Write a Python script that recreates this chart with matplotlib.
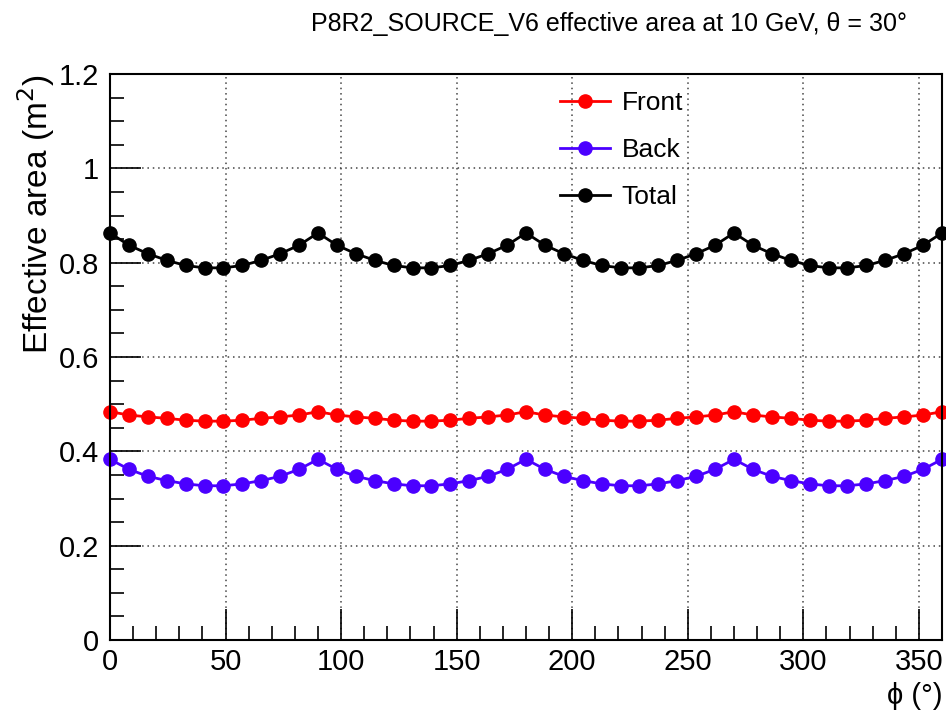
import numpy as np
import matplotlib
matplotlib.use("Agg")
import matplotlib.pyplot as plt
from matplotlib.ticker import MultipleLocator, FuncFormatter

plt.rcParams['font.family'] = ['Liberation Sans', 'DejaVu Sans']

# phi bins (deg), 45 points from 0 to 360
phi = np.linspace(0, 360, 45)

front = [0.484, 0.477, 0.473, 0.470, 0.466, 0.464, 0.464, 0.466, 0.470, 0.473, 0.477,
         0.484, 0.477, 0.473, 0.470, 0.466, 0.464, 0.464, 0.466, 0.470, 0.473, 0.477,
         0.484, 0.477, 0.473, 0.470, 0.466, 0.464, 0.464, 0.466, 0.470, 0.473, 0.477,
         0.484, 0.477, 0.473, 0.470, 0.466, 0.464, 0.464, 0.466, 0.470, 0.473, 0.477,
         0.484]
back = [0.383, 0.362, 0.347, 0.338, 0.331, 0.327, 0.327, 0.331, 0.338, 0.347, 0.362,
        0.383, 0.362, 0.347, 0.338, 0.331, 0.327, 0.327, 0.331, 0.338, 0.347, 0.362,
        0.383, 0.362, 0.347, 0.338, 0.331, 0.327, 0.327, 0.331, 0.338, 0.347, 0.362,
        0.383, 0.362, 0.347, 0.338, 0.331, 0.327, 0.327, 0.331, 0.338, 0.347, 0.362,
        0.383]
total = [0.863, 0.837, 0.819, 0.805, 0.794, 0.789, 0.789, 0.794, 0.805, 0.819, 0.837,
         0.863, 0.837, 0.819, 0.805, 0.794, 0.789, 0.789, 0.794, 0.805, 0.819, 0.837,
         0.863, 0.837, 0.819, 0.805, 0.794, 0.789, 0.789, 0.794, 0.805, 0.819, 0.837,
         0.863, 0.837, 0.819, 0.805, 0.794, 0.789, 0.789, 0.794, 0.805, 0.819, 0.837,
         0.863]

fig = plt.figure(figsize=(9.46, 7.12), dpi=100)
ax = fig.add_axes([110 / 946, 72 / 712, 832 / 946, 566 / 712])

ax.plot(phi, front, color='#ff0000', marker='o', markersize=9.5, lw=2.0, label='Front', clip_on=False)
ax.plot(phi, back, color='#4b00ff', marker='o', markersize=9.5, lw=2.0, label='Back', clip_on=False)
ax.plot(phi, total, color='black', marker='o', markersize=9.5, lw=2.0, label='Total', clip_on=False)

ax.set_xlim(0, 360)
ax.set_ylim(0, 1.2)
ax.xaxis.set_major_locator(MultipleLocator(50))
ax.xaxis.set_minor_locator(MultipleLocator(10))
ax.yaxis.set_major_locator(MultipleLocator(0.2))
ax.yaxis.set_minor_locator(MultipleLocator(0.05))
ax.yaxis.set_major_formatter(FuncFormatter(lambda v, p: f"{v:g}"))

ax.tick_params(which='both', direction='in', top=False, right=False, labelsize=21, width=1.2)
ax.tick_params(which='major', length=22)
ax.tick_params(which='minor', length=10)
ax.tick_params(axis='x', pad=6)
ax.tick_params(axis='y', pad=8)
for s in ax.spines.values():
    s.set_linewidth(1.5)

ax.grid(True, which='major', linestyle=(0, (1, 2.5)), color='#444444', lw=1.1)
ax.set_axisbelow(True)

ax.set_title('P8R2_SOURCE_V6 effective area at 10 GeV, θ = 30°', fontsize=18, pad=31, x=0.6)
ax.set_xlabel('ϕ (°)', fontsize=21, loc='right', labelpad=4)
ax.set_ylabel('Effective area (m$^2$)', fontsize=24, loc='top', labelpad=1)

ax.legend(loc='upper left', bbox_to_anchor=(0.52, 1.0), frameon=False, fontsize=19,
          handlelength=1.9, handletextpad=0.45, labelspacing=0.87, borderaxespad=0.25)

fig.savefig('out.png', dpi=100)
